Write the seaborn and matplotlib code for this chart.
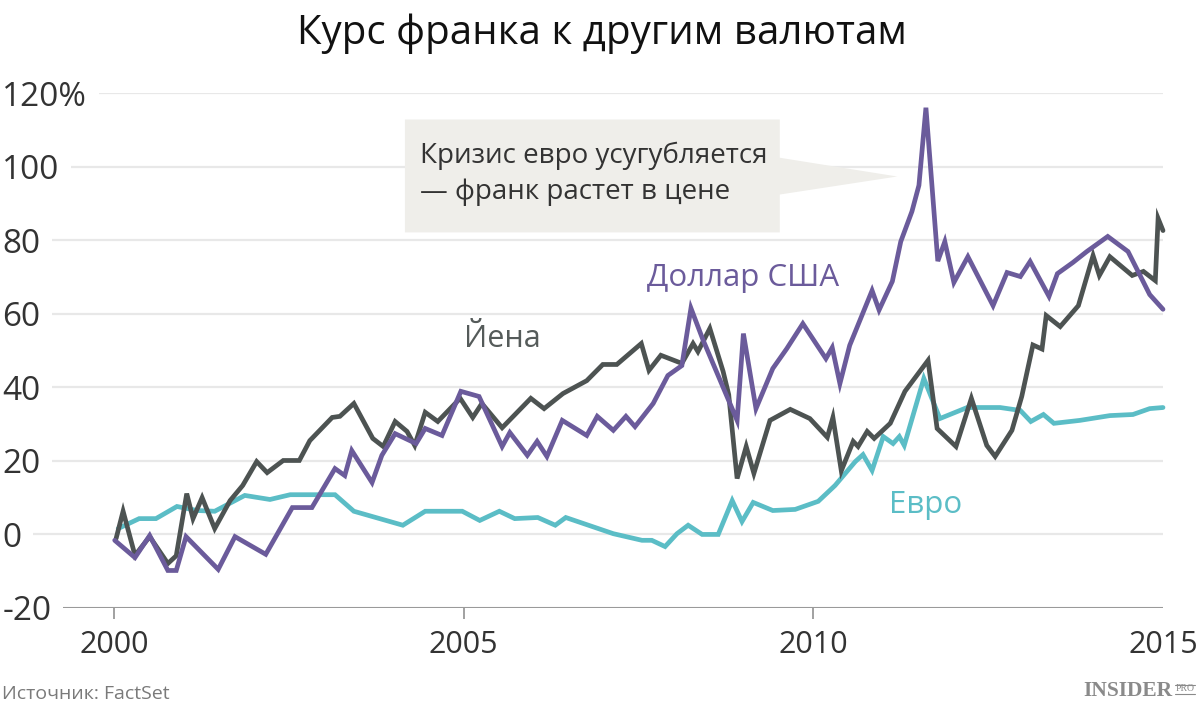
import matplotlib
matplotlib.use("Agg")
import matplotlib.pyplot as plt
from matplotlib.patches import Polygon
from matplotlib.lines import Line2D
import pandas as pd
import seaborn as sns

# Series (decimal year, % change vs. 2000)
usd_years = [2000.01, 2000.30, 2000.51, 2000.77, 2000.89, 2001.03, 2001.49, 2001.73, 2002.17, 2002.55,
             2002.83, 2003.16, 2003.30, 2003.40, 2003.69, 2003.83, 2004.02, 2004.32, 2004.45, 2004.69,
             2004.96, 2005.22, 2005.55, 2005.66, 2005.91, 2006.05, 2006.19, 2006.41, 2006.76, 2006.91,
             2007.14, 2007.32, 2007.45, 2007.71, 2007.92, 2008.12, 2008.25, 2008.42, 2008.91, 2009.00,
             2009.18, 2009.42, 2009.62, 2009.85, 2010.18, 2010.27, 2010.38, 2010.52, 2010.84, 2010.94,
             2011.13, 2011.25, 2011.41, 2011.51, 2011.61, 2011.78, 2011.88, 2012.01, 2012.21, 2012.57,
             2012.77, 2012.96, 2013.10, 2013.37, 2013.49, 2013.71, 2013.91, 2014.21, 2014.50, 2014.81,
             2015.00]
usd_values = [-1.6, -6.3, -0.3, -9.8, -9.8, -0.6, -9.5, -0.6, -5.4, 7.3,
              7.3, 17.9, 16.0, 22.8, 14.1, 21.5, 27.4, 24.7, 28.8, 26.9,
              38.9, 37.5, 23.9, 27.7, 21.5, 25.3, 21.2, 31.0, 26.9, 32.1,
              28.3, 32.1, 29.3, 35.6, 43.2, 45.9, 61.5, 53.0, 31.0, 54.6,
              34.2, 45.1, 50.5, 57.3, 47.8, 50.8, 41.0, 51.4, 66.3, 61.0,
              68.8, 79.6, 87.8, 94.9, 116.0, 74.3, 79.6, 68.5, 75.5, 62.2,
              71.2, 70.1, 74.2, 64.7, 70.9, 73.9, 76.9, 81.0, 76.9, 65.2,
              61.2]

yen_years = [2000.03, 2000.13, 2000.30, 2000.51, 2000.77, 2000.89, 2001.04, 2001.13, 2001.26, 2001.44,
             2001.66, 2001.84, 2002.04, 2002.19, 2002.42, 2002.65, 2002.80, 2003.12, 2003.23, 2003.43,
             2003.70, 2003.85, 2004.02, 2004.19, 2004.30, 2004.45, 2004.63, 2004.95, 2005.13, 2005.26,
             2005.55, 2005.96, 2006.15, 2006.42, 2006.76, 2006.99, 2007.19, 2007.54, 2007.65, 2007.82,
             2008.12, 2008.28, 2008.35, 2008.52, 2008.71, 2008.79, 2008.91, 2009.04, 2009.15, 2009.38,
             2009.67, 2009.95, 2010.20, 2010.28, 2010.40, 2010.57, 2010.64, 2010.77, 2010.87, 2011.10,
             2011.31, 2011.64, 2011.77, 2012.04, 2012.26, 2012.48, 2012.60, 2012.84, 2012.98, 2013.14,
             2013.27, 2013.33, 2013.53, 2013.79, 2014.00, 2014.09, 2014.24, 2014.56, 2014.72, 2014.89,
             2014.93, 2015.00]
yen_values = [-1.1, 6.3, -5.7, -0.6, -7.9, -5.8, 11.1, 4.3, 10.0, 1.6,
              9.2, 13.3, 19.8, 16.8, 20.1, 20.1, 25.5, 31.8, 32.1, 35.6,
              26.1, 23.9, 30.7, 28.0, 24.2, 33.2, 30.7, 37.0, 31.8, 35.6,
              29.0, 37.0, 34.2, 38.3, 41.8, 46.2, 46.2, 51.9, 44.6, 48.7,
              46.5, 51.9, 49.7, 56.0, 44.3, 38.0, 15.2, 23.9, 16.6, 31.0,
              34.0, 31.5, 26.4, 31.8, 17.3, 25.3, 23.9, 28.0, 26.1, 30.2,
              38.9, 47.3, 28.8, 23.9, 37.0, 24.2, 21.2, 28.3, 37.5, 51.5,
              50.4, 59.5, 56.5, 62.2, 75.8, 70.4, 75.5, 70.4, 71.5, 69.0,
              85.9, 82.6]

eur_years = [2000.06, 2000.36, 2000.60, 2000.90, 2001.19, 2001.44, 2001.87, 2002.23, 2002.52, 2003.16,
             2003.43, 2004.13, 2004.45, 2004.98, 2005.23, 2005.51, 2005.73, 2006.06, 2006.31, 2006.46,
             2007.14, 2007.55, 2007.69, 2007.88, 2008.05, 2008.21, 2008.41, 2008.64, 2008.84, 2008.98,
             2009.14, 2009.42, 2009.74, 2010.07, 2010.31, 2010.60, 2010.71, 2010.84, 2011.00, 2011.14,
             2011.23, 2011.30, 2011.58, 2011.81, 2012.20, 2012.67, 2012.96, 2013.11, 2013.29, 2013.44,
             2013.81, 2014.24, 2014.57, 2014.81, 2015.00]
eur_values = [1.6, 4.3, 4.3, 7.6, 6.5, 6.3, 10.6, 9.5, 10.8, 10.8,
              6.3, 2.5, 6.3, 6.3, 3.8, 6.3, 4.3, 4.6, 2.5, 4.6,
              0.2, -1.6, -1.6, -3.3, 0.2, 2.5, 0.0, 0.0, 9.2, 3.5,
              8.7, 6.5, 6.8, 9.0, 13.3, 19.8, 21.7, 17.4, 26.6, 24.7,
              26.6, 24.2, 42.4, 31.5, 34.5, 34.5, 33.7, 30.7, 32.6, 30.2,
              31.0, 32.3, 32.6, 34.2, 34.5]

y_ticks = [-20, 0, 20, 40, 60, 80, 100, 120]
y_labels = ["-20", "0", "20", "40", "60", "80", "100", "120%"]
x_ticks = [2000, 2005, 2010, 2015]
x_labels = ["2000", "2005", "2010", "2015"]

colors = {"Евро": "#5bbdc6", "Йена": "#4d5352", "Доллар США": "#6b5b9b"}

df = pd.concat([
    pd.DataFrame({"year": eur_years, "value": eur_values, "currency": "Евро"}),
    pd.DataFrame({"year": yen_years, "value": yen_values, "currency": "Йена"}),
    pd.DataFrame({"year": usd_years, "value": usd_values, "currency": "Доллар США"}),
], ignore_index=True)

sns.set_theme(style="white")
plt.rcParams["font.family"] = ["Open Sans", "DejaVu Sans"]

fig = plt.figure(figsize=(12, 7.12), dpi=100)
ax = fig.add_axes([0, 104 / 712, 1163 / 1200, 515 / 712])

# light grid, darker baseline at -20
for v in y_ticks[1:]:
    ax.axhline(v, color="#e8e8e8", lw=1.6, zorder=0)
ax.axhline(-20, color="#9a9a9a", lw=1.5, zorder=1)

sns.lineplot(data=df, x="year", y="value", hue="currency", palette=colors,
             hue_order=["Евро", "Йена", "Доллар США"], estimator=None, sort=False,
             lw=3.4, legend=False, ax=ax)
for ln in ax.lines[-3:]:
    ln.set_solid_joinstyle("miter")
    ln.set_clip_on(False)
    ln.set_zorder(3)

ax.set_xlim(2000 - 114 / 69.93, 2015)
ax.set_ylim(-20, 120)
sns.despine(ax=ax, left=True, bottom=True, top=True, right=True)
ax.set_xlabel("")
ax.set_ylabel("")
ax.set_yticks([])
ax.set_xticks(x_ticks)
ax.set_xticklabels(x_labels, fontsize=22, color="#333333")
ax.tick_params(axis="x", length=8, width=1.3, color="#9a9a9a", pad=8, bottom=True)
ax.xaxis.get_major_ticks()[-1].tick1line.set_visible(False)

for v, lab in zip(y_ticks, y_labels):
    ax.text(0.002, v, lab, transform=ax.get_yaxis_transform(), ha="left", va="center_baseline",
            fontsize=24, color="#333333",
            bbox=dict(boxstyle="square,pad=0.35", fc="white", ec="none"), zorder=2)

# callout
box = Polygon([(2004.16, 112.8), (2009.52, 112.8), (2009.52, 102.4), (2011.20, 97.3),
               (2009.52, 92.4), (2009.52, 82.1), (2004.16, 82.1)],
              closed=True, fc="#efeeea", ec="none", zorder=1)
ax.add_patch(box)
ax.text(2004.38, 101.0, "Кризис евро усугубляется", fontsize=20, color="#333333", va="baseline", zorder=4)
ax.text(2004.38, 91.3, "— франк растет в цене", fontsize=20, color="#333333", va="baseline", zorder=4)

# series labels
ax.text(2008.99, 67.5, "Доллар США", fontsize=22.5, color=colors["Доллар США"], ha="center", va="baseline")
ax.text(2005.55, 51.0, "Йена", fontsize=22, color="#555b5a", ha="center", va="baseline")
ax.text(2011.61, 5.7, "Евро", fontsize=22.5, color=colors["Евро"], ha="center", va="baseline")

fig.text(0.502, (712 - 44) / 712, "Курс франка к другим валютам", ha="center", va="baseline",
         fontsize=29, color="#111111")
fig.text(0.002, (712 - 699) / 712, "Источник: FactSet", ha="left", va="baseline",
         fontsize=14, color="#7a7a7a")

# logo
fig.text(1172 / 1200, (712 - 696) / 712, "INSIDER", ha="right", va="baseline", fontsize=15.5,
         color="#8a8a8a", family="Liberation Serif", weight="bold")
fig.text(1185 / 1200, (712 - 691) / 712, "PRO", ha="center", va="baseline", fontsize=7,
         color="#8a8a8a", family="Liberation Serif")
for yy in (684.5, 694):
    fig.add_artist(Line2D([1175 / 1200, 1195 / 1200], [(712 - yy) / 712] * 2,
                          color="#8a8a8a", lw=0.8))

fig.savefig("out.png", dpi=100, facecolor="white")
